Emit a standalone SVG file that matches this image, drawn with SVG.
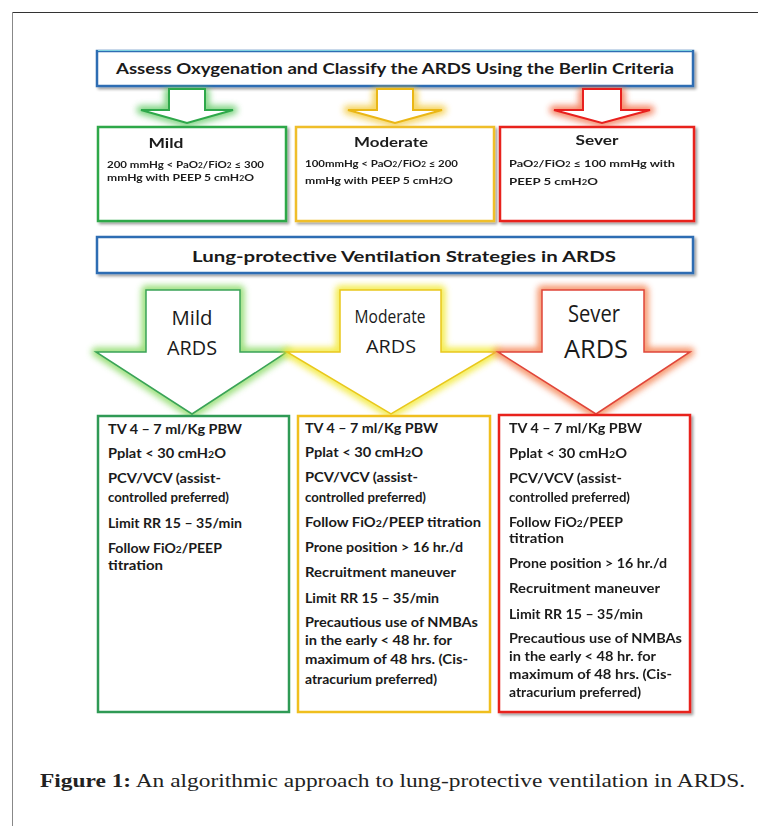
<svg xmlns="http://www.w3.org/2000/svg" width="758" height="826" viewBox="0 0 758 826">
<style>
  .b { font-family: Lato, "Open Sans", "Liberation Sans", sans-serif; font-weight: bold; fill: #1a1a1a; }
  .body { font-size: 12.5px; }
  .det { font-size: 10px; }
  .hd { font-size: 14px; text-anchor: middle; }
  .ttl { font-size: 15px; text-anchor: middle; }
  .lbl { font-family: "Open Sans", Lato, "Liberation Sans", sans-serif; fill: #1a1a1a; text-anchor: middle; }
  .sub { font-size: 72%; }
  .tbox { fill: #fff; stroke: #2f6db3; stroke-width: 2.5; }
  .glow { fill: none; stroke-width: 9; stroke-linejoin: round; filter: url(#blur); }
  .cap { font-family: "Liberation Serif", "Times New Roman", serif; font-size: 19.5px; fill: #222; }
</style>
<defs>
  <filter id="blur" x="-20%" y="-20%" width="140%" height="140%">
    <feGaussianBlur stdDeviation="3"/>
  </filter>
  <filter id="shadow" x="-10%" y="-10%" width="130%" height="130%">
    <feGaussianBlur in="SourceAlpha" stdDeviation="1.5"/>
    <feOffset dx="2" dy="2" result="o"/>
    <feComponentTransfer><feFuncA type="linear" slope="0.4"/></feComponentTransfer>
    <feMerge><feMergeNode/><feMergeNode in="SourceGraphic"/></feMerge>
  </filter>
</defs>

<rect width="758" height="826" fill="#fff"/>
<g id="frame">
  <line x1="12" y1="12.5" x2="758" y2="12.5" stroke="#333" stroke-width="1"/>
  <line x1="12.5" y1="12" x2="12.5" y2="826" stroke="#888" stroke-width="1"/>
</g>

<g id="title1">
  <rect class="tbox" x="97" y="51" width="596" height="35" filter="url(#shadow)"/>
  <line x1="98" y1="50.5" x2="692" y2="50.5" stroke="#7fd3e0" stroke-width="1"/>
  <text class="b ttl" x="395" y="74" textLength="558" lengthAdjust="spacingAndGlyphs">Assess Oxygenation and Classify the ARDS Using the Berlin Criteria</text>
</g>

<g id="connectors">
  <g id="arrow-small-mild">
    <path class="glow" stroke="#4cc34f" opacity="0.7" d="M169,92 H205 V110 H233 L187,123 L141,110 H169 Z"/>
    <path d="M169,89 H205 V110 H233 L187,123 L141,110 H169 Z" fill="#fff" stroke="#2ea84a" stroke-width="2"/>
  </g>
  <g id="arrow-small-moderate">
    <path class="glow" stroke="#f2c21a" opacity="0.7" d="M377,92 H413 V110 H442 L395,123 L348,110 H377 Z"/>
    <path d="M377,89 H413 V110 H442 L395,123 L348,110 H377 Z" fill="#fff" stroke="#eab716" stroke-width="2"/>
  </g>
  <g id="arrow-small-severe">
    <path class="glow" stroke="#f2592a" opacity="0.7" d="M583,92 H621 V110 H650 L602,123 L554,110 H583 Z"/>
    <path d="M583,89 H621 V110 H650 L602,123 L554,110 H583 Z" fill="#fff" stroke="#e8201e" stroke-width="2"/>
  </g>
</g>

<g id="box-mild" filter="url(#shadow)">
  <rect x="98" y="127" width="188" height="94" fill="#fff" stroke="#2ea84a" stroke-width="2.5"/>
  <text class="b hd" x="166" y="148" textLength="35" lengthAdjust="spacingAndGlyphs">Mild</text>
  <text class="b det" x="107" y="168" textLength="157" lengthAdjust="spacingAndGlyphs">200 mmHg &lt; PaO<tspan class="sub">2</tspan>/FiO<tspan class="sub">2</tspan> ≤ 300</text>
  <text class="b det" x="107" y="181" textLength="147" lengthAdjust="spacingAndGlyphs">mmHg with PEEP 5 cmH<tspan class="sub">2</tspan>O</text>
</g>
<g id="box-moderate" filter="url(#shadow)">
  <rect x="296" y="127" width="198" height="94" fill="#fff" stroke="#efbe2c" stroke-width="2.5"/>
  <text class="b hd" x="391" y="147" textLength="74" lengthAdjust="spacingAndGlyphs">Moderate</text>
  <text class="b det" x="305" y="167" textLength="153" lengthAdjust="spacingAndGlyphs">100mmHg &lt; PaO<tspan class="sub">2</tspan>/FiO<tspan class="sub">2</tspan> ≤ 200</text>
  <text class="b det" x="305" y="184" textLength="148" lengthAdjust="spacingAndGlyphs">mmHg with PEEP 5 cmH<tspan class="sub">2</tspan>O</text>
</g>
<g id="box-severe" filter="url(#shadow)">
  <rect x="500" y="127" width="194" height="94" fill="#fff" stroke="#e8201e" stroke-width="2.5"/>
  <text class="b hd" x="597" y="145" textLength="43" lengthAdjust="spacingAndGlyphs">Sever</text>
  <text class="b det" x="509" y="167" font-size="11" textLength="166" lengthAdjust="spacingAndGlyphs">PaO<tspan class="sub">2</tspan>/FiO<tspan class="sub">2</tspan> ≤ 100 mmHg with</text>
  <text class="b det" x="509" y="185" font-size="11" textLength="89" lengthAdjust="spacingAndGlyphs">PEEP 5 cmH<tspan class="sub">2</tspan>O</text>
</g>

<g id="title2">
  <rect class="tbox" x="97" y="237" width="596" height="36" filter="url(#shadow)"/>
  <text class="b ttl" x="404" y="262" font-size="16" textLength="424" lengthAdjust="spacingAndGlyphs">Lung-protective Ventilation Strategies in ARDS</text>
</g>

<g id="arrow-mild">
  <path class="glow" stroke="#8fdc6a" opacity="0.9" d="M146,290 H240 V352 H287 L192,414 L96,352 H146 Z"/>
  <path d="M146,290 H240 V352 H287 L192,414 L96,352 H146 Z" fill="#fff" stroke="#3aa357" stroke-width="1.5"/>
  <text class="lbl" x="192" y="325" font-size="20" textLength="41" lengthAdjust="spacingAndGlyphs">Mild</text>
  <text class="lbl" x="192" y="355" font-size="20" textLength="50" lengthAdjust="spacingAndGlyphs">ARDS</text>
</g>
<g id="arrow-moderate">
  <path class="glow" stroke="#f3ea3a" opacity="0.9" d="M340,290 H441 V352 H496 L391,414 L287,352 H340 Z"/>
  <path d="M340,290 H441 V352 H496 L391,414 L287,352 H340 Z" fill="#fff" stroke="#e9c81c" stroke-width="1.5"/>
  <text class="lbl" x="390" y="323" font-size="18" textLength="71" lengthAdjust="spacingAndGlyphs">Moderate</text>
  <text class="lbl" x="391" y="353" font-size="18" textLength="50" lengthAdjust="spacingAndGlyphs">ARDS</text>
</g>
<g id="arrow-severe">
  <path class="glow" stroke="#f5895a" opacity="0.9" d="M542,290 H644 V352 H690 L596,414 L498,352 H542 Z"/>
  <path d="M542,290 H644 V352 H690 L596,414 L498,352 H542 Z" fill="#fff" stroke="#e0463a" stroke-width="1.5"/>
  <text class="lbl" x="594" y="322" font-size="24" textLength="52" lengthAdjust="spacingAndGlyphs">Sever</text>
  <text class="lbl" x="596" y="358" font-size="25" textLength="64" lengthAdjust="spacingAndGlyphs">ARDS</text>
</g>

<g id="list-mild">
  <rect x="98" y="416" width="191" height="296" fill="#fff" stroke="#2f9a55" stroke-width="2.5"/>
  <text class="b body" x="108" y="434" textLength="134" lengthAdjust="spacingAndGlyphs">TV 4 – 7 ml/Kg PBW</text>
  <text class="b body" x="108" y="458" textLength="118" lengthAdjust="spacingAndGlyphs">Pplat &lt; 30 cmH<tspan class="sub">2</tspan>O</text>
  <text class="b body" x="108" y="483" textLength="113" lengthAdjust="spacingAndGlyphs">PCV/VCV (assist-</text>
  <text class="b body" x="108" y="502" textLength="121" lengthAdjust="spacingAndGlyphs">controlled preferred)</text>
  <text class="b body" x="108" y="528" textLength="134" lengthAdjust="spacingAndGlyphs">Limit RR 15 – 35/min</text>
  <text class="b body" x="108" y="553" textLength="114" lengthAdjust="spacingAndGlyphs">Follow FiO<tspan class="sub">2</tspan>/PEEP</text>
  <text class="b body" x="108" y="570" textLength="55" lengthAdjust="spacingAndGlyphs">titration</text>
</g>

<g id="list-moderate">
  <rect x="298" y="416" width="192" height="296" fill="#fff" stroke="#f0bf1e" stroke-width="2.5"/>
  <text class="b body" x="305" y="433" textLength="133" lengthAdjust="spacingAndGlyphs">TV 4 – 7 ml/Kg PBW</text>
  <text class="b body" x="305" y="457" textLength="118" lengthAdjust="spacingAndGlyphs">Pplat &lt; 30 cmH<tspan class="sub">2</tspan>O</text>
  <text class="b body" x="305" y="482" textLength="113" lengthAdjust="spacingAndGlyphs">PCV/VCV (assist-</text>
  <text class="b body" x="305" y="502" textLength="121" lengthAdjust="spacingAndGlyphs">controlled preferred)</text>
  <text class="b body" x="305" y="527" textLength="176" lengthAdjust="spacingAndGlyphs">Follow FiO<tspan class="sub">2</tspan>/PEEP titration</text>
  <text class="b body" x="305" y="552" textLength="158" lengthAdjust="spacingAndGlyphs">Prone position &gt; 16 hr./d</text>
  <text class="b body" x="305" y="577" textLength="151" lengthAdjust="spacingAndGlyphs">Recruitment  maneuver</text>
  <text class="b body" x="305" y="603" textLength="134" lengthAdjust="spacingAndGlyphs">Limit RR 15 – 35/min</text>
  <text class="b body" x="305" y="627" textLength="173" lengthAdjust="spacingAndGlyphs">Precautious use of NMBAs</text>
  <text class="b body" x="305" y="645" textLength="147" lengthAdjust="spacingAndGlyphs">in the early &lt; 48 hr. for</text>
  <text class="b body" x="305" y="664" textLength="163" lengthAdjust="spacingAndGlyphs">maximum of 48 hrs. (Cis-</text>
  <text class="b body" x="305" y="684" textLength="132" lengthAdjust="spacingAndGlyphs">atracurium preferred)</text>
</g>

<g id="list-severe" filter="url(#shadow)">
  <rect x="499" y="415" width="191" height="297" fill="#fff" stroke="#e8201e" stroke-width="2.5"/>
  <text class="b body" x="509" y="433" textLength="133" lengthAdjust="spacingAndGlyphs">TV 4 – 7 ml/Kg PBW</text>
  <text class="b body" x="509" y="458" textLength="118" lengthAdjust="spacingAndGlyphs">Pplat &lt; 30 cmH<tspan class="sub">2</tspan>O</text>
  <text class="b body" x="509" y="483" textLength="113" lengthAdjust="spacingAndGlyphs">PCV/VCV (assist-</text>
  <text class="b body" x="509" y="502" textLength="121" lengthAdjust="spacingAndGlyphs">controlled preferred)</text>
  <text class="b body" x="509" y="527" textLength="114" lengthAdjust="spacingAndGlyphs">Follow FiO<tspan class="sub">2</tspan>/PEEP</text>
  <text class="b body" x="509" y="543" textLength="55" lengthAdjust="spacingAndGlyphs">titration</text>
  <text class="b body" x="509" y="568" textLength="158" lengthAdjust="spacingAndGlyphs">Prone position &gt; 16 hr./d</text>
  <text class="b body" x="509" y="593" textLength="151" lengthAdjust="spacingAndGlyphs">Recruitment  maneuver</text>
  <text class="b body" x="509" y="619" textLength="134" lengthAdjust="spacingAndGlyphs">Limit RR 15 – 35/min</text>
  <text class="b body" x="509" y="643" textLength="173" lengthAdjust="spacingAndGlyphs">Precautious use of NMBAs</text>
  <text class="b body" x="509" y="661" textLength="147" lengthAdjust="spacingAndGlyphs">in the early &lt; 48 hr. for</text>
  <text class="b body" x="509" y="679" textLength="163" lengthAdjust="spacingAndGlyphs">maximum of 48 hrs. (Cis-</text>
  <text class="b body" x="509" y="697" textLength="132" lengthAdjust="spacingAndGlyphs">atracurium preferred)</text>
</g>

<g id="caption">
  <text class="cap" x="40" y="787" textLength="705" lengthAdjust="spacingAndGlyphs"><tspan font-weight="bold">Figure 1:</tspan> An algorithmic approach to lung-protective ventilation in ARDS.</text>
</g>
</svg>
